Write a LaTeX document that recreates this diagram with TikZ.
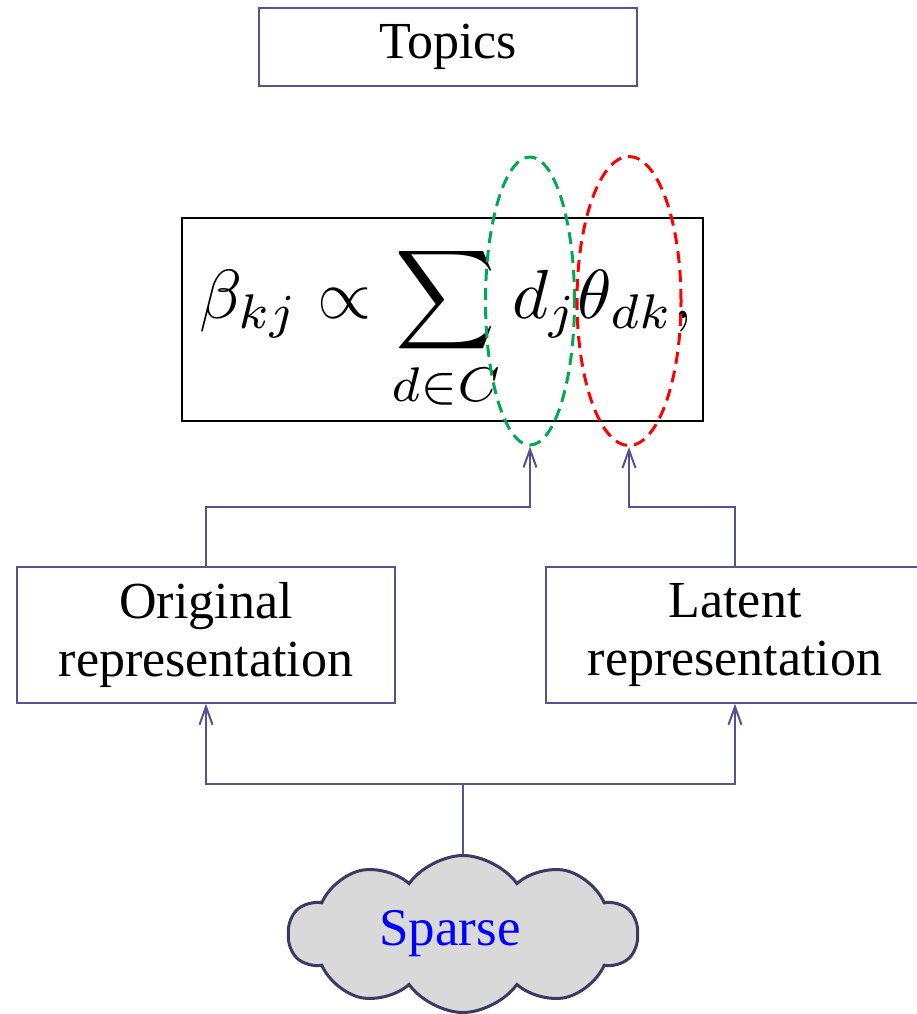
\documentclass[tikz,border=0pt]{standalone}
\usepackage{amsmath,amssymb}
\usepackage{graphicx}
\usepackage{fontspec}
\setmainfont{Liberation Serif}
\usepackage{tikz}
\usepackage{xcolor}
\usetikzlibrary{arrows.meta,positioning,shapes.geometric,shapes.symbols}
\definecolor{linkblue}{HTML}{53538F}
\definecolor{cloudedge}{HTML}{3A3A62}
\definecolor{cloudgray}{HTML}{D9D9D9}
\definecolor{wordgreen}{HTML}{00A850}
\definecolor{topicred}{HTML}{FF0000}
\newcommand{\bigfont}{\fontsize{52}{58}\selectfont}

\begin{document}
\begin{tikzpicture}[
      x=1pt,y=-1pt,
      >={Straight Barb[length=18pt,width=13pt,line width=2pt]},
      labelbox/.style={draw=linkblue,line width=1.5pt,minimum width=378pt,
                   minimum height=136pt,align=center,font=\bigfont,inner sep=0pt},
      ovalmark/.style={ellipse,draw,dashed,line width=3pt,
                   dash pattern=on 12pt off 7pt,inner sep=0pt},
      link/.style={draw=linkblue,line width=2pt},
      arrow/.style={link,->}
    ]
    \useasboundingbox (0,0) rectangle (917,1014);
    \node[labelbox,minimum width=378pt,minimum height=78pt] (topics) at (448,47) {Topics};
    \node[draw=black,line width=1.5pt,minimum width=521pt,minimum height=203pt] (formbox) at (442.5,319.5) {};
    \node[anchor=base,inner sep=0pt] (formula) at (446,318)
      {\scalebox{6.95}{$\displaystyle \beta_{kj}\propto\sum_{d\in C} d_j\theta_{dk},$}};
    \node[ovalmark,draw=wordgreen,minimum width=89pt,minimum height=288pt] (wordoval) at (530,301) {};
    \node[ovalmark,draw=topicred,minimum width=104pt,minimum height=289pt] (topicoval) at (629,301) {};
    \node[labelbox] (orig) at (206,635) {Original\\representation};
    \node[labelbox] (latent) at (735,635) {Latent\\representation};
    \node[cloud,cloud puffs=10,cloud puff arc=110,aspect=2.2,draw=cloudedge,line width=3pt,
      fill=cloudgray,minimum width=349pt,minimum height=157pt,inner sep=0pt,
      font=\fontsize{53}{58}\selectfont,text=blue] (sparse) at (463,934) {\hspace*{-26pt}Sparse};
    \coordinate (split) at (463,784);
    \draw[link] (sparse.north) -- (split);
    \draw[arrow] (split) -| (orig.south);
    \draw[arrow] (split) -| (latent.south);
    \draw[arrow] (orig.north) -- ++(0,-59) -| (wordoval.south);
    \draw[arrow] (latent.north) -- ++(0,-59) -| (topicoval.south);
  \end{tikzpicture}
\end{document}
